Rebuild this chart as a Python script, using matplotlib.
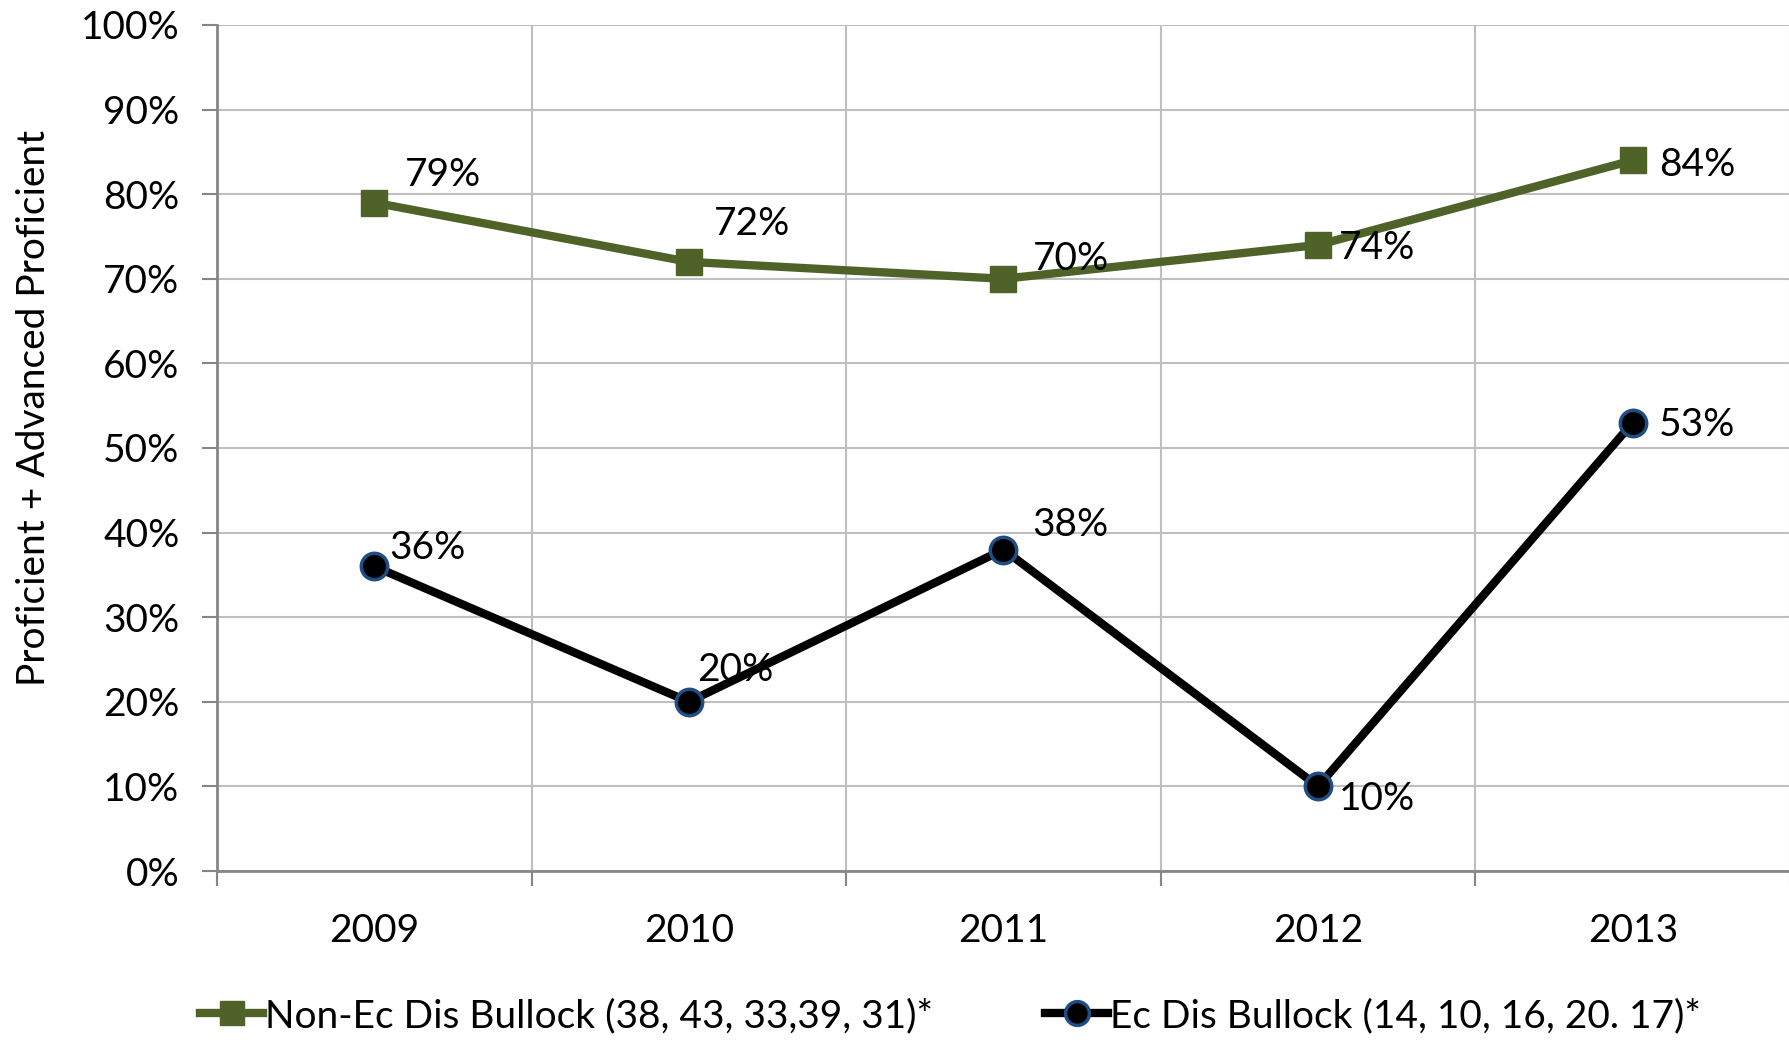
import matplotlib
matplotlib.use("Agg")
import matplotlib.pyplot as plt
from matplotlib.ticker import FixedLocator, PercentFormatter

plt.rcParams['font.family'] = ['Lato', 'DejaVu Sans']

years = ["2009", "2010", "2011", "2012", "2013"]
non_ec = [79, 72, 70, 74, 84]
ec = [36, 20, 38, 10, 53]
non_ec_label = "Non-Ec Dis Bullock (38, 43, 33,39, 31)*"
ec_label = "Ec Dis Bullock (14, 10, 16, 20. 17)*"
y_title = "Proficient + Advanced Proficient"

# label offsets in points (style, not data)
non_ec_off = [(22, 20), (18, 27), (21, 14), (15, -2), (19, -3)]
ec_off = [(11, 13), (6, 23), (21, 18), (15, -9), (19, -2)]

green = "#4F6228"
edge_blue = "#1F4E85"
grid_c = "#BFBFBF"
axis_c = "#868686"
fs = 28

fig = plt.figure(figsize=(17.9, 10.4), dpi=100)
ax = fig.add_axes([217/1790, 1-871/1040, 1-217/1790, (871-25)/1040])

x = list(range(len(years)))
ax.plot(x, non_ec, color=green, lw=6, marker="s", ms=19, mfc=green, mec=green,
        label=non_ec_label, zorder=3)
ax.plot(x, ec, color="black", lw=6, marker="o", ms=19, mfc="black", mec=edge_blue,
        mew=2.5, label=ec_label, zorder=3)

for xi, v, off in zip(x, non_ec, non_ec_off):
    ax.annotate(f"{v}%", (xi, v), xytext=off, textcoords="offset points",
                fontsize=fs, ha="left", va="center", zorder=4)
for xi, v, off in zip(x, ec, ec_off):
    ax.annotate(f"{v}%", (xi, v), xytext=off, textcoords="offset points",
                fontsize=fs, ha="left", va="center", zorder=4)

ax.set_xlim(-0.5, len(years) - 0.5)
ax.set_ylim(0, 100)
ax.yaxis.set_major_locator(FixedLocator(range(0, 101, 10)))
ax.yaxis.set_major_formatter(PercentFormatter(decimals=0))
ax.xaxis.set_major_locator(FixedLocator([i - 0.5 for i in range(len(years) + 1)]))
ax.xaxis.set_minor_locator(FixedLocator(x))
ax.set_xticklabels([])
ax.set_xticklabels(years, minor=True)
ax.tick_params(axis="x", which="major", length=11, color=axis_c, width=1.5)
ax.tick_params(axis="x", which="minor", length=0, labelsize=fs, pad=30)
ax.tick_params(axis="y", length=11, color=axis_c, width=1.5, labelsize=fs, pad=16)

ax.grid(True, which="major", color=grid_c, lw=1.5)
ax.set_axisbelow(True)
for s in ["top", "right"]:
    ax.spines[s].set_visible(False)
for s in ["left", "bottom"]:
    ax.spines[s].set_color(axis_c)
    ax.spines[s].set_linewidth(2)

fig.text(34/1790, 1-408/1040, y_title, rotation=90, fontsize=fs,
         ha="center", va="center")

fig.legend(loc="center", bbox_to_anchor=(0.531, 1-1016/1040), ncol=2, frameon=False,
           fontsize=fs, handlelength=1.6, handletextpad=0.05, columnspacing=2.9,
           markerscale=0.9)

fig.savefig("out.png", dpi=100, facecolor="white")
